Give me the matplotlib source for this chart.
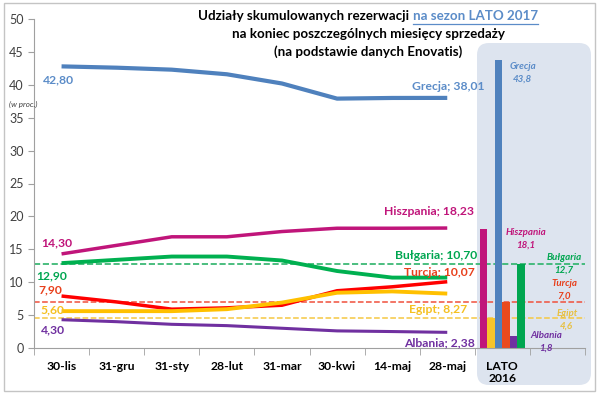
import matplotlib.pyplot as plt
from matplotlib.patches import FancyBboxPatch, Rectangle
from matplotlib.transforms import IdentityTransform

plt.rcParams['font.family'] = ['Lato', 'DejaVu Sans']

# dane
months = ["30-lis", "31-gru", "31-sty", "28-lut", "31-mar", "30-kwi", "14-maj", "28-maj"]
grecja = [42.80, 42.6, 42.3, 41.6, 40.2, 37.9, 38.0, 38.01]
hiszpania = [14.30, 15.6, 16.9, 16.9, 17.7, 18.2, 18.2, 18.23]
bulgaria = [12.90, 13.4, 13.9, 13.9, 13.3, 11.7, 10.7, 10.70]
turcja = [7.90, 7.0, 5.9, 6.1, 6.5, 8.7, 9.3, 10.07]
egipt = [5.60, 5.6, 5.6, 5.9, 6.9, 8.4, 8.6, 8.27]
albania = [4.30, 4.0, 3.6, 3.4, 3.0, 2.6, 2.5, 2.38]

lato_label = "LATO\n2016"
bar_names = ["Hiszpania", "Egipt", "Grecja", "Turcja", "Albania", "Bulgaria"]
lato2016 = [18.1, 4.6, 43.8, 7.0, 1.8, 12.7]

#plot
fig = plt.figure(figsize=(6, 3.95), dpi=100)
ax = fig.add_axes([34/600, 1-348/395, (585-34)/600, (348-19)/395])
ax.patch.set_visible(False)

# tlo dla LATO 2016
box = FancyBboxPatch((479, 12), 110, 338, boxstyle="round,pad=2,rounding_size=12",
                     transform=IdentityTransform(), facecolor='#dde4ef', edgecolor='none', zorder=-2)
fig.patches.append(box)
fig.patches.append(Rectangle((4, 4), 591, 388, transform=IdentityTransform(),
                             facecolor='none', edgecolor='#c4c4c4', lw=1, zorder=-1))

x = range(len(months))
series = [
    (grecja, '#4f81bd', 3.0),
    (hiszpania, '#c0157a', 2.5),
    (bulgaria, '#00b050', 2.8),
    (turcja, '#ff0000', 2.5),
    (egipt, '#ffc000', 2.8),
    (albania, '#7030a0', 2.2),
]
for vals, col, lw in series:
    ax.plot(x, vals, color=col, lw=lw, solid_capstyle='butt', zorder=3)

# slupki LATO 2016
bar_colors = {"Hiszpania": '#c0157a', "Egipt": '#f7c42a', "Grecja": '#4f81bd',
              "Turcja": '#ea4a1e', "Albania": '#7030a0', "Bulgaria": '#00a650'}
bw = 0.135
pos = len(months)
for i, (name, v) in enumerate(zip(bar_names, lato2016)):
    ax.bar(pos + (i - 2.5) * bw, v, width=bw, color=bar_colors[name], zorder=2)

# linie przerywane
ax.axhline(lato2016[5], color='#2cb36a', ls='--', lw=1.2, zorder=1)
ax.axhline(lato2016[3], color='#f0503c', ls='--', lw=1.1, zorder=1)
ax.axhline(lato2016[1], color='#f5c842', ls='--', lw=1.1, zorder=1)

def fmt(v, d=2):
    return f"{v:.{d}f}".replace('.', ',')

# etykiety poczatkowe
lab_kw = dict(ha='center', va='center', fontsize=8.7, fontweight='bold')
ax.text(-0.06, 40.7, fmt(grecja[0]), color='#5b8cc8', **lab_kw)
ax.text(-0.08, 16.0, fmt(hiszpania[0]), color='#c0157a', **lab_kw)
ax.text(-0.17, 10.9, fmt(bulgaria[0]), color='#00a650', **lab_kw)
ax.text(-0.2, 8.8, fmt(turcja[0]), color='#e8401c', **lab_kw)
ax.text(-0.17, 5.8, fmt(egipt[0]), color='#f5c020', **lab_kw)
ax.text(-0.15, 2.7, fmt(albania[0]), color='#7030a0', **lab_kw)

# etykiety koncowe
ax.text(7.01, 39.7, "Grecja; " + fmt(grecja[-1]), color='#5b8cc8', **lab_kw)
ax.text(6.66, 20.8, "Hiszpania; " + fmt(hiszpania[-1]), color='#c0157a', **lab_kw)
ax.text(6.8, 14.0, "Bułgaria; " + fmt(bulgaria[-1]), color='#00a650', **lab_kw)
ax.text(6.86, 11.4, "Turcja; " + fmt(turcja[-1]), color='#e8401c', **lab_kw)
ax.text(6.83, 5.9, "Egipt; " + fmt(egipt[-1]), color='#f5c020', **lab_kw)
ax.text(6.86, 0.8, "Albania; " + fmt(albania[-1]), color='#7030a0', **lab_kw)

# etykiety slupkow
bl_kw = dict(ha='center', va='center', fontsize=7, fontweight='bold', style='italic', linespacing=1.5)
bar_lab_pos = {"Grecja": (8.37, 41.8), "Hiszpania": (8.43, 16.6), "Bulgaria": (9.12, 12.8),
               "Turcja": (9.12, 8.8), "Egipt": (9.17, 4.25), "Albania": (8.79, 0.9)}
lab_names = {"Bulgaria": "Bułgaria"}
lab_colors = {"Grecja": '#5b8cc8', "Hiszpania": '#c0157a', "Bulgaria": '#00a650',
              "Turcja": '#e8401c', "Egipt": '#e8c040', "Albania": '#7030a0'}
for name, v in zip(bar_names, lato2016):
    px, py = bar_lab_pos[name]
    ax.text(px, py, lab_names.get(name, name) + "\n" + fmt(v, 1), color=lab_colors[name], **bl_kw)

# osie
ax.set_xlim(-0.5, 9.5)
ax.set_ylim(0, 50)
ax.set_yticks(range(0, 51, 5))
ax.set_xticks(list(range(len(months) + 1)))
ax.set_xticklabels(months + [lato_label], fontweight='bold', fontsize=8.7)
ax.set_xticks([k - 0.5 for k in range(11)], minor=True)
ax.tick_params(axis='x', which='major', length=0, pad=9)
ax.tick_params(axis='x', which='minor', length=5, color='#a0a0a0', direction='out')
ax.tick_params(axis='y', length=4, color='#a0a0a0', labelsize=9, labelcolor='#404040')
for s in ['top', 'right']:
    ax.spines[s].set_visible(False)
for s in ['left', 'bottom']:
    ax.spines[s].set_color('#a0a0a0')
fig.text(9 / 600, 1 - 104 / 395, "(w proc.)", fontsize=5.8, style='italic',
         color='#404040', ha='left', va='center')

# tytul
cx = 368
t1a = fig.text(0, 0, "Udziały skumulowanych rezerwacji ", fontsize=9.6, fontweight='bold')
t1b = fig.text(0, 0, "na sezon LATO 2017", fontsize=9.6, fontweight='bold', color='#5b8cc8')
r = fig.canvas.get_renderer()
wa = t1a.get_window_extent(r).width
wb = t1b.get_window_extent(r).width
x0 = cx - (wa + wb) / 2
t1a.set_position((x0 / 600, 1 - 16 / 395))
t1b.set_position(((x0 + wa) / 600, 1 - 16 / 395))
t1a.set_va('center')
t1b.set_va('center')
fig.add_artist(plt.Line2D([(x0 + wa) / 600, (x0 + wa + wb) / 600], [1 - 24 / 395] * 2,
                          color='#5b8cc8', lw=0.9))
fig.text(cx / 600, 1 - 34 / 395, "na koniec poszczególnych miesięcy sprzedaży",
         fontsize=9.6, fontweight='bold', ha='center', va='center')
fig.text(cx / 600, 1 - 52 / 395, "(na podstawie danych Enovatis)",
         fontsize=9.6, fontweight='bold', ha='center', va='center')

fig.savefig("out.png", dpi=100)
